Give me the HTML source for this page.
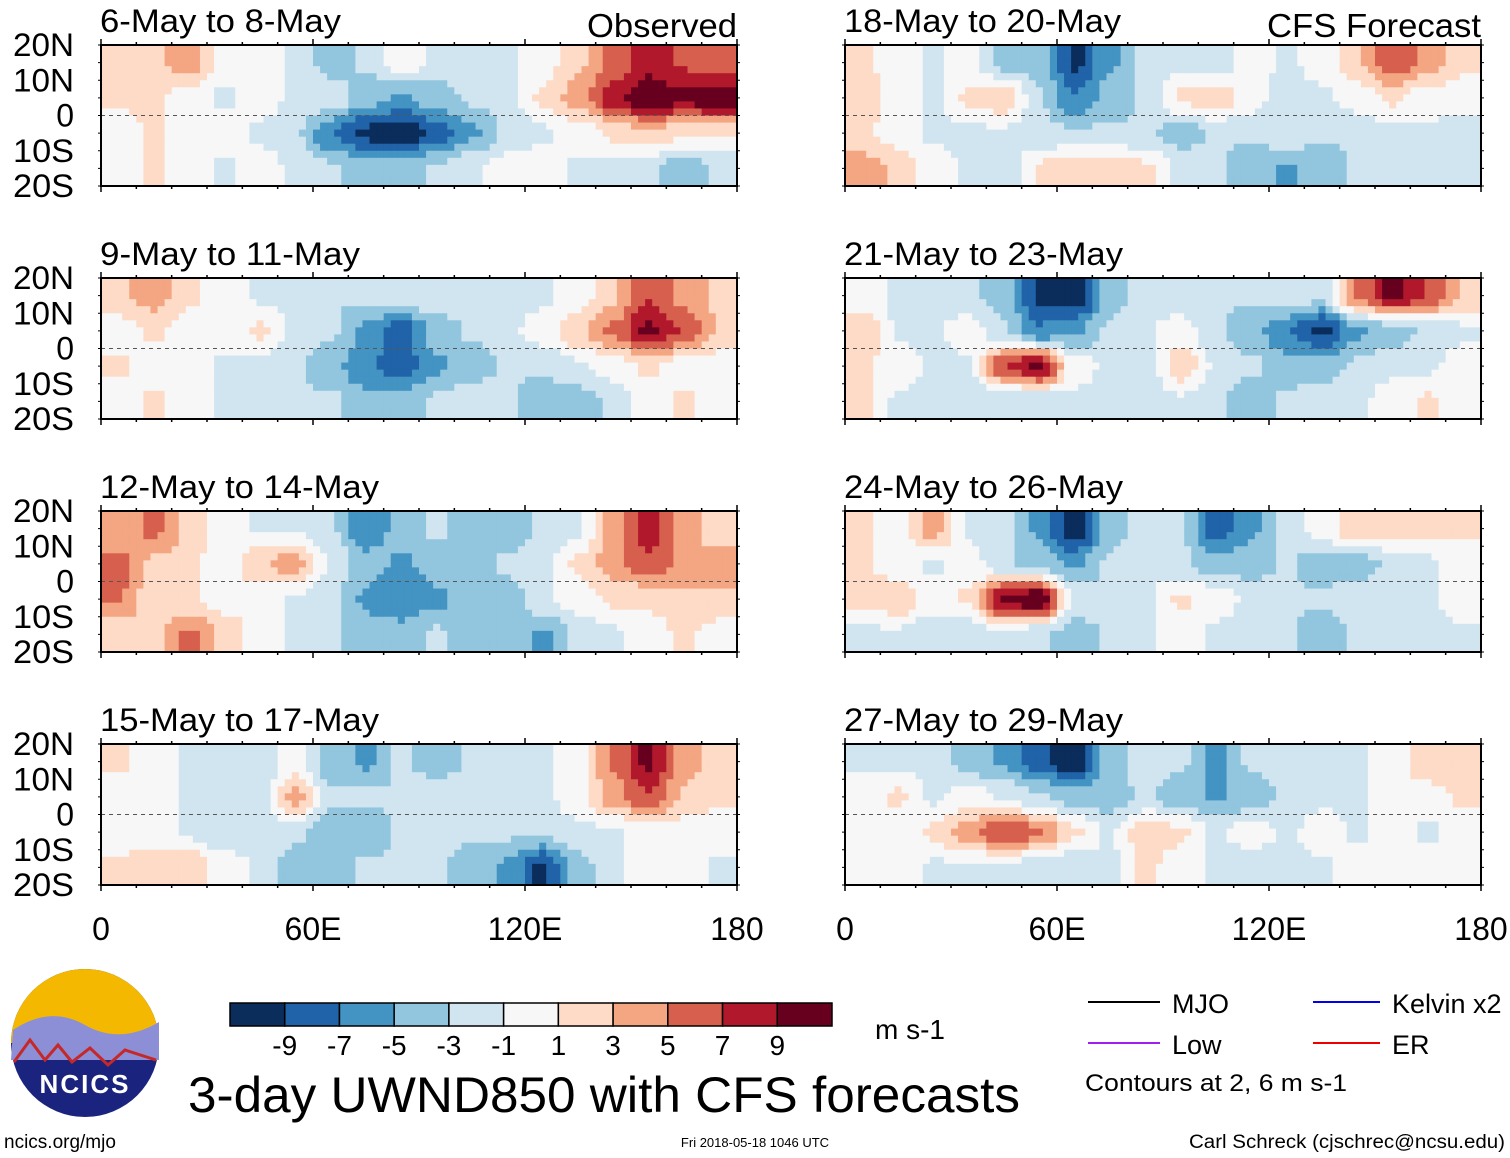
<!DOCTYPE html>
<html><head><meta charset="utf-8"><style>
body{margin:0;background:#fff;width:1510px;height:1158px;overflow:hidden;font-family:"Liberation Sans",sans-serif}
svg{position:absolute;left:0;top:0}
</style></head><body>
<svg id="chart" width="1510" height="1158" viewBox="0 0 1510 1158">
<defs><clipPath id="c"><rect x="0" y="0" width="636" height="141"/></clipPath></defs>
</svg>
<script>
const titles=["6-May to 8-May","9-May to 11-May","12-May to 14-May","15-May to 17-May","18-May to 20-May","21-May to 23-May","24-May to 26-May","27-May to 29-May"];
const latLabels=["20N","10N","0","10S","20S"];
const lonLabels=["0","60E","120E","180"];
const binEdges=[-9,-7,-5,-3,-1,1,3,5,7,9];
const binColors=["#0b2d5c","#2063a8","#4393c3","#92c5de","#d1e5f0","#f7f7f7","#fddbc7","#f4a582","#d6604d","#b2182b","#67001f"];
const barLabels=["-9","-7","-5","-3","-1","1","3","5","7","9"];
// rows: 15N,5N,5S,15S ; cols: 5E..175E every 10
const p1=[[2,2,3,0,0,-1,-3,-2,0,-1,-1,-1,0,2,4,6,5,4],[1,1,0,-1,0,-1,-1,-3,-4,-3,-2,-1,1,3,6,8,7,8],[0,1,0,0,-1,-2,-5,-7,-8,-6,-4,-2,-1,0,1,2,1,1],[0,1,0,-1,0,-1,-2,-3,-3,-2,-1,0,0,-1,-1,-2,-3,-2]];
const p2=[[2,3,1,0,-1,-1,-2,-2,-1,-1,-2,-2,-1,0,2,5,3,2],[0,1,0,0,1,-1,-2,-4,-6,-3,-2,-1,0,2,4,7,5,2],[1,0,0,-1,-1,-2,-3,-5,-6,-4,-3,-2,-2,-1,0,1,0,0],[0,1,0,-1,-1,-2,-2,-3,-3,-2,-1,-2,-3,-3,-2,0,1,0]];
const p3=[[3,4,2,0,-1,-1,-2,-5,-3,-2,-3,-3,-2,-1,3,6,3,1],[4,2,1,0,2,3,-1,-3,-4,-3,-3,-2,-1,1,3,5,3,3],[4,1,1,0,0,-1,-2,-4,-5,-4,-3,-3,-1,0,1,1,2,2],[1,2,4,2,0,-1,-2,-3,-3,-2,-3,-3,-4,-2,-1,0,1,0]];
const p4=[[1,0,-1,-2,-2,0,-3,-4,-2,-3,-2,-2,-1,0,4,7,3,1],[0,0,-1,-1,-2,3,-2,-2,-2,-1,-2,-2,-1,0,3,5,2,1],[0,0,-1,-2,-1,-2,-3,-3,-2,-1,-2,-2,-2,-1,-1,0,0,0],[1,2,2,0,-1,-3,-3,-2,-2,-2,-3,-4,-7,-3,-1,0,0,-1]];
const p5=[[1,0,-1,0,-3,-3,-7,-4,-2,-1,-2,0,-1,0,2,5,3,1],[2,0,-1,1,2,-2,-5,-3,-2,1,2,0,-2,-1,0,1,0,0],[1,0,-1,-1,-1,-2,-2,-2,-2,-3,-2,-2,-1,-2,-2,-1,-1,-2],[3,2,0,-1,-2,1,2,2,1,-1,-2,-3,-4,-3,-2,-2,-1,-1]];
const p6=[[0,-1,-1,-2,-3,-7,-8,-3,-1,-2,-2,-2,-1,-2,4,7,5,2],[2,-1,-1,0,-2,-5,-4,-2,-1,0,-2,-3,-5,-7,-4,-3,-2,-1],[1,0,-1,-1,5,7,0,-1,-2,2,-1,-2,-3,-3,-2,-1,-1,0],[1,-1,-1,-2,-2,-2,-1,-2,-2,-1,-2,-3,-2,-1,-1,0,1,0]];
const p7=[[1,0,3,-1,-2,-4,-8,-3,-1,-2,-6,-4,-2,0,2,2,1,1],[1,0,-1,0,-2,-3,-4,-2,-1,-2,-3,-3,-2,-3,-3,-2,-1,0],[1,2,0,1,7,8,-1,-2,-1,1,0,-1,-2,-2,-1,-1,-1,0],[-1,-1,-2,-2,-1,-2,-3,-2,-1,0,-1,-2,-2,-3,-2,-1,-1,-1]];
const p8=[[-1,-1,-1,-3,-4,-6,-8,-3,-1,-2,-4,-2,-1,-1,-1,0,2,2],[0,1,-1,0,-1,-2,-3,-3,-2,-3,-4,-3,-2,-1,-1,0,0,1],[0,0,1,3,5,4,1,-1,2,1,-1,0,-1,0,-1,0,-1,0],[0,0,-1,-1,-1,-2,-2,-1,1,0,-1,-2,-1,-1,0,0,0,0]];
const panelData=[p1,p2,p3,p4,p5,p6,p7,p8];
const titleWidths=[241,260,279,279,277,279,279,279];

const NS="http://www.w3.org/2000/svg";
const svg=document.getElementById('chart');
function mk(tag,attrs,parent){const e=document.createElementNS(NS,tag);for(const k in attrs)e.setAttribute(k,attrs[k]);(parent||svg).appendChild(e);return e;}
function colorOf(v){let i=0;while(i<binEdges.length&&v>=binEdges[i])i++;return binColors[i];}
const PW=636,PH=141;
function xOf(lon){return lon/180*PW;}
function yOf(lat){return (20-lat)/40*PH;}
function sample(d,lon,lat){
  let cx=(lon-5)/10, cy=(15-lat)/10;
  cx=Math.max(0,Math.min(17,cx)); cy=Math.max(0,Math.min(3,cy));
  const x0=Math.min(16,Math.floor(cx)),y0=Math.min(2,Math.floor(cy));
  let fx=cx-x0,fy=cy-y0;
  fx=fx*fx*(3-2*fx); fy=fy*fy*(3-2*fy);
  return d[y0][x0]*(1-fx)*(1-fy)+d[y0][x0+1]*fx*(1-fy)+d[y0+1][x0]*(1-fx)*fy+d[y0+1][x0+1]*fx*fy;
}
const origins=[[101,45],[101,278],[101,511],[101,744],[845,45],[845,278],[845,511],[845,744]];
panelData.forEach((d,pi)=>{
  const [ox,oy]=origins[pi];
  const g=mk('g',{transform:`translate(${ox},${oy})`});
  
  
  const heat=mk('g',{'clip-path':'url(#c)'},g);
  
  
  const step=2;
  for(let lon=0;lon<180;lon+=step){
    for(let lat=20;lat>-20;lat-=step){
      const v=1.35*sample(d,lon+step/2,lat-step/2);
      const r=mk('rect',{x:xOf(lon).toFixed(2),y:yOf(lat).toFixed(2),width:(xOf(step)+0.6).toFixed(2),height:(PH*step/40+0.6).toFixed(2),fill:colorOf(v)},heat);
      
      
    }
  }
  const eq=mk('line',{x1:0,x2:PW,y1:yOf(0),y2:yOf(0),stroke:'#555','stroke-dasharray':'4 4','stroke-width':1},g);
  
  
  const fr=mk('rect',{x:0,y:0,width:PW,height:PH,fill:'none',stroke:'#000','stroke-width':2},g);
  
  
  for(let lon=0;lon<=180;lon+=10){
    const L=lon%60===0?6:3;
    mk('line',{x1:xOf(lon),x2:xOf(lon),y1:0,y2:-L,stroke:'#000','stroke-width':1.5},g);
    mk('line',{x1:xOf(lon),x2:xOf(lon),y1:PH,y2:PH+L,stroke:'#000','stroke-width':1.5},g);
  }
  for(let lat=-20;lat<=20;lat+=5){
    mk('line',{x1:0,x2:-3,y1:yOf(lat),y2:yOf(lat),stroke:'#000'},g);
    mk('line',{x1:PW,x2:PW+3,y1:yOf(lat),y2:yOf(lat),stroke:'#000'},g);
  }
  const t=mk('text',{x:-1,y:-13,'font-size':32,fill:'#000',textLength:titleWidths[pi],lengthAdjust:'spacingAndGlyphs'},g);t.textContent=titles[pi];
  
  
  if(pi<4){
    latLabels.forEach((lb,i)=>{const tt=mk('text',{x:-27,y:yOf(20-i*10)+11,'font-size':32,'text-anchor':'end',fill:'#000'},g);tt.textContent=lb;
      if(lb.length===3){tt.setAttribute('textLength',61);tt.setAttribute('lengthAdjust','spacingAndGlyphs');}
      
      });
  }
  if(pi===0||pi===4){
    const s=mk('text',{x:PW,y:-8,'font-size':33,'text-anchor':'end'},g);s.textContent=pi===0?"Observed":"CFS Forecast";
    s.setAttribute('textLength',pi===0?150:214);s.setAttribute('lengthAdjust','spacingAndGlyphs');
    
    
  }
  if(pi===3||pi===7){
    lonLabels.forEach((lb,i)=>{const tt=mk('text',{x:xOf(i*60),y:PH+55,'font-size':32,'text-anchor':'middle'},g);tt.textContent=lb;
      
      });
  }
});
// colorbar
const cb=mk('g',{});


const bw=602/11;
binColors.forEach((c,i)=>{const r=mk('rect',{x:230+i*bw,y:1003,width:bw,height:23,fill:c,stroke:'#000','stroke-width':1.5},cb);
  
  });
barLabels.forEach((l,i)=>{const t=mk('text',{x:230+(i+1)*bw,y:1055,'font-size':28,'text-anchor':'middle'},cb);t.textContent=l;
  
  });
</script>
<svg width="1510" height="1158" style="pointer-events:none">
<g>
<circle cx="85" cy="1043" r="74" fill="#1a237e"/>
<path d="M11,1043 A74,74 0 0 1 159,1043 Z" fill="#f5b800"/>
<path d="M13,1030 Q50,1005 85,1025 T159,1022 L159,1060 L11,1060 Z" fill="#8c8fd6"/>
<path d="M14,1062 L30,1040 L45,1060 L58,1045 L72,1062 L90,1048 L108,1065 L125,1050 L156,1060" stroke="#c62828" stroke-width="3" fill="none"/>
<text x="85" y="1093" font-size="26" font-weight="bold" fill="#fff" text-anchor="middle" letter-spacing="2">NCICS</text>
</g>
<text x="875" y="1039" font-size="28">m s-1</text>
<text x="188" y="1112" font-size="50" textLength="832" lengthAdjust="spacingAndGlyphs">3-day UWND850 with CFS forecasts</text>
<g>
<line x1="1088" x2="1160" y1="1002" y2="1002" stroke="#000" stroke-width="2"/><text x="1172" y="1013" font-size="27">MJO</text>
<line x1="1313" x2="1380" y1="1002" y2="1002" stroke="#0000ee" stroke-width="2"/><text x="1392" y="1013" font-size="27">Kelvin x2</text>
<line x1="1088" x2="1160" y1="1043" y2="1043" stroke="#a020f0" stroke-width="2"/><text x="1172" y="1054" font-size="27">Low</text>
<line x1="1313" x2="1380" y1="1043" y2="1043" stroke="#ee0000" stroke-width="2"/><text x="1392" y="1054" font-size="27">ER</text>
<text x="1085" y="1091" font-size="24" textLength="262" lengthAdjust="spacingAndGlyphs">Contours at 2, 6 m s-1</text>
</g>
<text x="4" y="1148" font-size="19">ncics.org/mjo</text>
<text x="755" y="1147" font-size="13" text-anchor="middle">Fri 2018-05-18 1046 UTC</text>
<text x="1505" y="1148" font-size="19" text-anchor="end" textLength="316" lengthAdjust="spacingAndGlyphs">Carl Schreck (cjschrec@ncsu.edu)</text>
</svg>
</body></html>
